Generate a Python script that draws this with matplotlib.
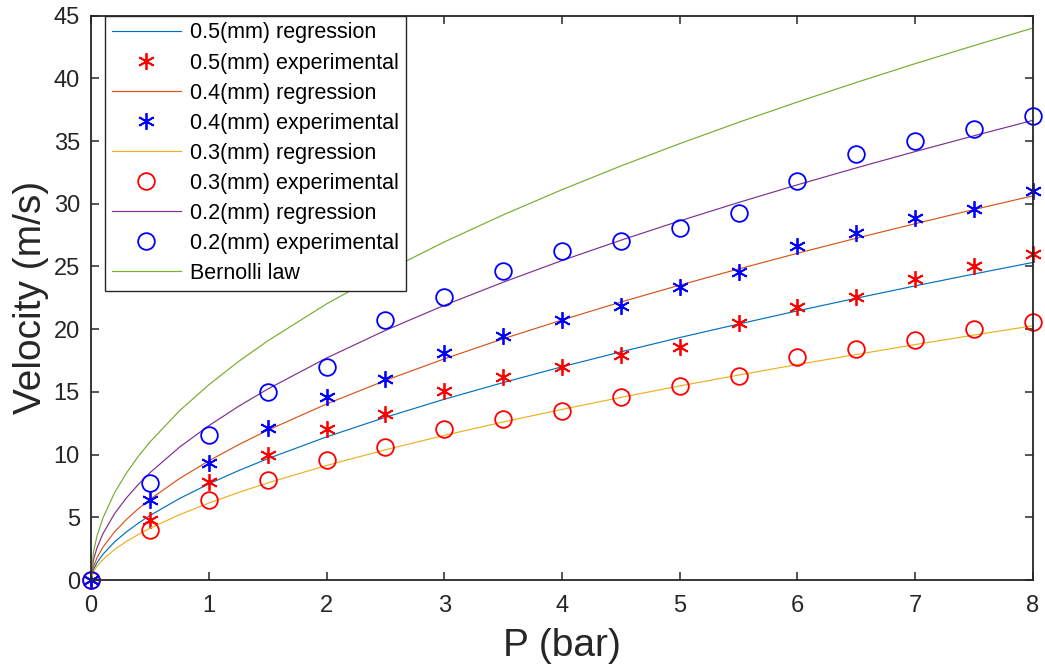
import matplotlib
matplotlib.use("Agg")
import matplotlib.pyplot as plt
from matplotlib import font_manager

# ---------------- data ----------------
P_exp = [0, 0.5, 1, 1.5, 2, 2.5, 3, 3.5, 4, 4.5, 5, 5.5, 6, 6.5, 7, 7.5, 8]
v05_exp = [0, 4.8, 7.8, 10.0, 12.0, 13.2, 15.1, 16.2, 17.0, 17.9, 18.6, 20.5, 21.75, 22.6, 24.0, 25.0, 26.0]
v04_exp = [0, 6.4, 9.3, 12.15, 14.6, 16.0, 18.1, 19.45, 20.75, 21.85, 23.4, 24.55, 26.6, 27.7, 28.85, 29.6, 31.0]
v03_exp = [0, 4.0, 6.35, 8.0, 9.6, 10.6, 12.0, 12.85, 13.5, 14.6, 15.45, 16.3, 17.75, 18.4, 19.15, 20.0, 20.6]
v02_exp = [0, 7.75, 11.55, 15.0, 17.0, 20.7, 22.55, 24.6, 26.25, 27.0, 28.1, 29.3, 31.85, 34.0, 35.0, 35.95, 37.0]

P_fit = [0, 0.02, 0.05, 0.1, 0.2, 0.3, 0.4, 0.5, 0.75, 1, 1.25, 1.5, 2, 2.5, 3, 3.5,
         4, 4.5, 5, 5.5, 6, 6.5, 7, 7.5, 8]
v05_fit = [0, 0.81, 1.37, 2.04, 3.04, 3.83, 4.52, 5.14, 6.49, 7.66, 8.71, 9.67, 11.41, 12.97,
           14.41, 15.74, 17.00, 18.19, 19.33, 20.41, 21.46, 22.47, 23.45, 24.40, 25.32]
v04_fit = [0, 1.05, 1.76, 2.60, 3.84, 4.82, 5.67, 6.43, 8.08, 9.50, 10.77, 11.94, 14.03, 15.91,
           17.63, 19.23, 20.73, 22.16, 23.51, 24.80, 26.05, 27.25, 28.41, 29.54, 30.63]
v03_fit = [0, 0.65, 1.09, 1.63, 2.43, 3.07, 3.62, 4.12, 5.20, 6.13, 6.97, 7.74, 9.13, 10.38,
           11.53, 12.60, 13.60, 14.56, 15.47, 16.34, 17.18, 17.98, 18.77, 19.53, 20.27]
v02_fit = [0, 1.58, 2.55, 3.67, 5.29, 6.54, 7.60, 8.55, 10.58, 12.30, 13.83, 15.22, 17.70, 19.90,
           21.90, 23.74, 25.47, 27.09, 28.63, 30.10, 31.51, 32.86, 34.16, 35.42, 36.65]
v_bern = [0, 2.20, 3.48, 4.92, 6.96, 8.52, 9.84, 11.00, 13.48, 15.56, 17.40, 19.06, 22.01, 24.60,
          26.95, 29.11, 31.12, 33.01, 34.79, 36.49, 38.11, 39.67, 41.17, 42.61, 44.01]

x_ticks = [0, 1, 2, 3, 4, 5, 6, 7, 8]
y_ticks = [0, 5, 10, 15, 20, 25, 30, 35, 40, 45]

# ---------------- fonts ----------------
names = {f.name for f in font_manager.fontManager.ttflist}
base = "Liberation Sans" if "Liberation Sans" in names else "DejaVu Sans"
narrow = "Liberation Sans Narrow" if "Liberation Sans Narrow" in names else base
plt.rcParams["font.family"] = [base, "DejaVu Sans"]

# ---------------- figure ----------------
fig = plt.figure(figsize=(10.45, 6.72), dpi=100)
ax = fig.add_axes([0.0871, 0.1369, 0.9014, 0.8399])

c_blue = "#0072BD"
c_orange = "#D95319"
c_yellow = "#EDB120"
c_purple = "#7E2F8E"
c_green = "#77AC30"
lw = 0.85
ast = (6, 2, 0)
ms_ast = 12
ms_circ = 12
mew = 1.3

ax.plot(P_fit, v05_fit, color=c_blue, lw=lw, label="0.5(mm) regression")
ax.plot(P_exp, v05_exp, ls="none", marker=ast, ms=ms_ast, mew=mew, color="#FF0000",
        clip_on=False, label="0.5(mm) experimental")
ax.plot(P_fit, v04_fit, color=c_orange, lw=lw, label="0.4(mm) regression")
ax.plot(P_exp, v04_exp, ls="none", marker=ast, ms=ms_ast, mew=mew, color="#0000FF",
        clip_on=False, label="0.4(mm) experimental")
ax.plot(P_fit, v03_fit, color=c_yellow, lw=lw, label="0.3(mm) regression")
ax.plot(P_exp, v03_exp, ls="none", marker="o", ms=ms_circ, mew=mew, mfc="none",
        mec="#FF0000", clip_on=False, label="0.3(mm) experimental")
ax.plot(P_fit, v02_fit, color=c_purple, lw=lw, label="0.2(mm) regression")
ax.plot(P_exp, v02_exp, ls="none", marker="o", ms=ms_circ, mew=mew, mfc="none",
        mec="#0000FF", clip_on=False, label="0.2(mm) experimental")
ax.plot(P_fit, v_bern, color=c_green, lw=lw, label="Bernolli law")

ax.set_xlim(0, 8)
ax.set_ylim(0, 45)
ax.set_xticks(x_ticks)
ax.set_yticks(y_ticks)

dark = "#262626"
for s in ax.spines.values():
    s.set_color(dark)
    s.set_linewidth(1.3)
ax.tick_params(direction="in", length=6, width=1.1, colors=dark, top=True, right=True,
               labelsize=17)
ax.tick_params(axis="y", pad=8)
ax.tick_params(axis="x", pad=11)
for lab in ax.get_xticklabels():
    lab.set_family([narrow, "DejaVu Sans"])

ax.set_xlabel("P (bar)", fontsize=28, family=[narrow, "DejaVu Sans"], color=dark, labelpad=8)
ax.set_ylabel("Velocity (m/s)", fontsize=28, color=dark, labelpad=3)

leg = ax.legend(loc="upper left", bbox_to_anchor=(0.0148, 1.0), borderaxespad=0,
                fontsize=15.5, handlelength=3.2, handletextpad=0.45, labelspacing=0.42,
                borderpad=0.32, fancybox=False, framealpha=1, edgecolor=dark)
leg.get_frame().set_linewidth(1.0)

fig.savefig("out.png", dpi=100)
